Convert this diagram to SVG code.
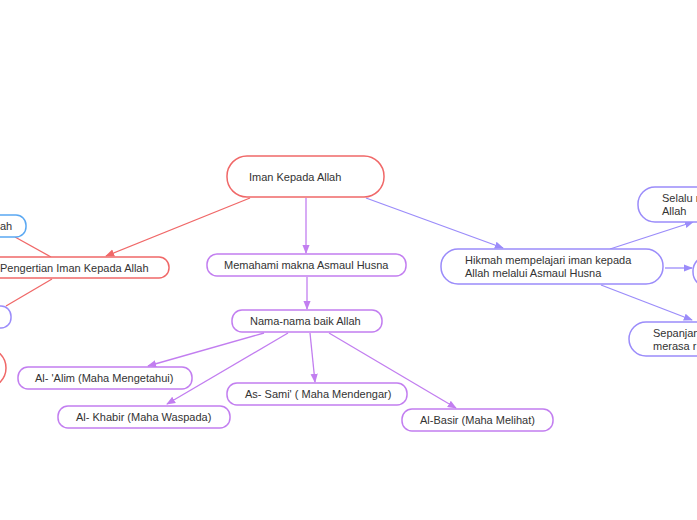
<svg xmlns="http://www.w3.org/2000/svg" width="697" height="520" viewBox="0 0 697 520">
<defs>
<style>
.t{font-family:"Liberation Sans",Arial,sans-serif;font-size:11px;fill:#333}
.n{fill:#fff;stroke-width:1.5}
.red{stroke:#f06868}
.pur{stroke:#c27ef0}
.vio{stroke:#9b8cfa}
.blu{stroke:#5aa8f2}
.c{fill:none;stroke-width:1.3}
</style>
<marker id="ar" viewBox="0 0 10 10" refX="9" refY="5" markerWidth="7" markerHeight="7" orient="auto"><path d="M0,1 L10,5 L0,9 z" fill="#f06868"/></marker>
<marker id="ap" viewBox="0 0 10 10" refX="9" refY="5" markerWidth="7" markerHeight="7" orient="auto"><path d="M0,1 L10,5 L0,9 z" fill="#c27ef0"/></marker>
<marker id="av" viewBox="0 0 10 10" refX="9" refY="5" markerWidth="7" markerHeight="7" orient="auto"><path d="M0,1 L10,5 L0,9 z" fill="#9b8cfa"/></marker>
</defs>
<rect width="697" height="520" fill="#fff"/>
<g id="connectors">
<line class="c red" x1="250" y1="198" x2="106" y2="256" marker-end="url(#ar)"/>
<line class="c red" x1="51" y1="257" x2="15" y2="237"/>
<line class="c red" x1="52" y1="279" x2="6" y2="306"/>
<line class="c pur" x1="306" y1="198" x2="306" y2="253" marker-end="url(#ap)"/>
<line class="c pur" x1="307" y1="277" x2="307" y2="309" marker-end="url(#ap)"/>
<line class="c pur" x1="264" y1="333" x2="148" y2="366" marker-end="url(#ap)"/>
<line class="c pur" x1="288" y1="333" x2="167" y2="404" marker-end="url(#ap)"/>
<line class="c pur" x1="310" y1="333" x2="315" y2="382" marker-end="url(#ap)"/>
<line class="c pur" x1="329" y1="333" x2="456" y2="408" marker-end="url(#ap)"/>
<line class="c vio" x1="366" y1="198" x2="503" y2="248" marker-end="url(#av)"/>
<line class="c vio" x1="610" y1="249" x2="693" y2="222" marker-end="url(#av)"/>
<line class="c vio" x1="665" y1="268" x2="692" y2="268" marker-end="url(#av)"/>
<line class="c vio" x1="601" y1="285" x2="692" y2="320" marker-end="url(#av)"/>
</g>
<g id="root"><rect class="n red" x="227" y="156" width="157" height="41" rx="20"/><text class="t" x="249" y="181">Iman Kepada Allah</text></g>
<g id="pengertian"><rect class="n red" x="-40" y="257" width="209" height="21" rx="10"/><text class="t" x="0" y="272">Pengertian Iman Kepada Allah</text></g>
<g id="left-blue"><rect class="n blu" x="-60" y="215" width="86" height="22" rx="10"/><text class="t" x="0" y="230">ah</text></g>
<g id="left-purple"><rect class="n vio" x="-60" y="306" width="71" height="22" rx="10"/></g>
<g id="left-red"><rect class="n red" x="-60" y="348" width="66" height="40" rx="20"/></g>
<g id="memahami"><rect class="n pur" x="207" y="254" width="199" height="22" rx="10"/><text class="t" x="224" y="269">Memahami makna Asmaul Husna</text></g>
<g id="nama"><rect class="n pur" x="232" y="310" width="150" height="22" rx="10"/><text class="t" x="250" y="325">Nama-nama baik Allah</text></g>
<g id="alim"><rect class="n pur" x="18" y="367" width="174" height="22" rx="10"/><text class="t" x="35" y="382">Al- 'Alim (Maha Mengetahui)</text></g>
<g id="khabir"><rect class="n pur" x="58" y="406" width="172" height="22" rx="10"/><text class="t" x="76" y="421">Al- Khabir (Maha Waspada)</text></g>
<g id="sami"><rect class="n pur" x="227" y="383" width="180" height="22" rx="10"/><text class="t" x="245" y="398">As- Sami' ( Maha Mendengar)</text></g>
<g id="basir"><rect class="n pur" x="402" y="409" width="151" height="22" rx="10"/><text class="t" x="420" y="424">Al-Basir (Maha Melihat)</text></g>
<g id="hikmah"><rect class="n vio" x="441" y="249" width="222" height="35" rx="17"/><text class="t" x="465" y="264">Hikmah mempelajari iman kepada</text><text class="t" x="465" y="277">Allah melalui Asmaul Husna</text></g>
<g id="selalu"><rect class="n vio" x="638" y="187" width="100" height="35" rx="17"/><text class="t" x="662" y="202">Selalu m</text><text class="t" x="662" y="215">Allah</text></g>
<g id="right-mid"><rect class="n vio" x="693" y="256" width="60" height="31" rx="15"/></g>
<g id="sepanjang"><rect class="n vio" x="629" y="322" width="100" height="34" rx="17"/><text class="t" x="653" y="337">Sepanjang</text><text class="t" x="653" y="350">merasa r</text></g>
</svg>
